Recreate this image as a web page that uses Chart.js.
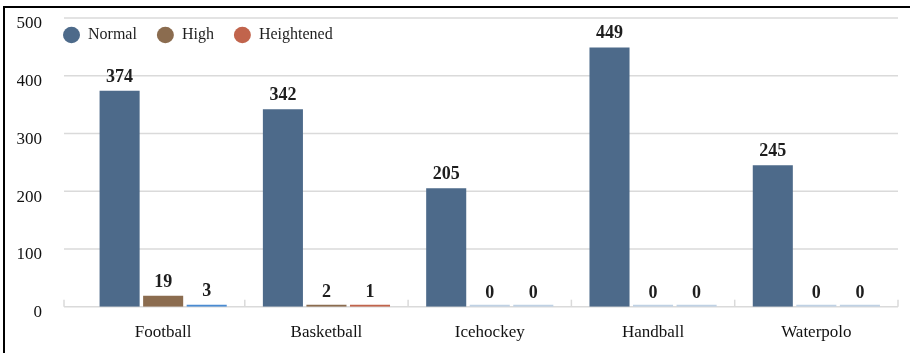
<!DOCTYPE html>
<html>
<head>
<meta charset="utf-8">
<script src="https://cdn.jsdelivr.net/npm/chart.js@4.4.1/dist/chart.umd.min.js"></script>
<style>
  body { margin: 0; background: #fff; }
  #wrap { position: relative; width: 910px; height: 353px; overflow: hidden; }
  #frame { position: absolute; left: 3px; top: 6px; right: -10px; bottom: -10px;
           border-left: 2px solid #000; border-top: 2px solid #000; pointer-events: none; }
  canvas { position: absolute; left: 0; top: 0; }
</style>
</head>
<body>
<div id="wrap">
  <canvas id="myChart" width="910" height="353"></canvas>
  <div id="frame"></div>
</div>
<script>
// Sports and counts per level
const sports = ["Football", "Basketball", "Icehockey", "Handball", "Waterpolo"];
const normal = [374, 342, 205, 449, 245];
const high = [19, 2, 0, 0, 0];
const heightened = [3, 1, 0, 0, 0];
const yTicks = [0, 100, 200, 300, 400, 500];

const serif = "'Liberation Serif', 'Times New Roman', serif";
const zeroColor = '#bfd1e4';
const gridColor = '#dadada';

// horizontal grid lines start a bit left of the first category
const gridPlugin = {
    id: 'grid',
    beforeDatasetsDraw(chart) {
        const ctx = chart.ctx;
        const y = chart.scales.y;
        const x = chart.scales.x;
        ctx.save();
        ctx.strokeStyle = gridColor;
        ctx.lineWidth = 1.5;
        yTicks.forEach(v => {
            const py = y.getPixelForValue(v);
            ctx.beginPath();
            ctx.moveTo(64, py);
            ctx.lineTo(x.right, py);
            ctx.stroke();
        });
        // small tick marks on the category axis
        const base = y.getPixelForValue(0);
        const step = (x.right - x.left) / sports.length;
        const marks = [64];
        for (let i = 1; i <= sports.length; i++) marks.push(x.left + step * i);
        marks.forEach(mx => {
            ctx.beginPath();
            ctx.moveTo(mx, base);
            ctx.lineTo(mx, base - 7);
            ctx.stroke();
        });
        ctx.restore();
    }
};

// value labels above the bars
const labelPlugin = {
    id: 'valueLabels',
    afterDatasetsDraw(chart) {
        const ctx = chart.ctx;
        const y = chart.scales.y;
        ctx.save();
        ctx.font = 'bold 18px ' + serif;
        ctx.fillStyle = '#1e1e1e';
        ctx.textAlign = 'center';
        ctx.textBaseline = 'alphabetic';
        chart.data.datasets.forEach((ds, i) => {
            chart.getDatasetMeta(i).data.forEach((bar, j) => {
                const v = ds.data[j];
                ctx.fillText(String(v), bar.x, y.getPixelForValue(v) - 9);
            });
        });
        ctx.restore();
    }
};

// legend sits inside the plot area, top left
const legendPlace = {
    id: 'legendPlace',
    beforeInit(chart) {
        const fit = chart.legend.fit;
        chart.legend.fit = function () {
            fit.bind(chart.legend)();
            this.height = 0;
        };
    },
    afterLayout(chart) {
        const lg = chart.legend;
        const pad = lg.options.labels.padding;
        lg.left = 63 - pad;
        lg.top = 35 - 8 - pad;
        lg.right = chart.width;
        lg.bottom = lg.top + 60;
        lg.width = lg.right - lg.left;
        lg.height = 60;
    }
};

const ctx = document.getElementById('myChart');
new Chart(ctx, {
    type: 'bar',
    data: {
        labels: sports,
        datasets: [{
            label: 'Normal',
            data: normal,
            backgroundColor: '#4d6a8a'
        }, {
            label: 'High',
            data: high,
            backgroundColor: c => c.raw === 0 ? zeroColor : '#8b6c4f'
        }, {
            label: 'Heightened',
            data: heightened,
            backgroundColor: c => c.raw === 0 ? zeroColor : (c.dataIndex === 0 ? '#4a8bd2' : '#c1644c')
        }]
    },
    options: {
        responsive: false,
        animation: false,
        categoryPercentage: 0.8,
        barPercentage: 0.92,
        minBarLength: 2,
        layout: { padding: { left: 17, right: 12, top: 18, bottom: 0 } },
        plugins: {
            tooltip: { enabled: false },
            legend: {
                position: 'top',
                align: 'start',
                labels: {
                    usePointStyle: true,
                    pointStyle: 'circle',
                    pointStyleWidth: 17,
                    boxHeight: 11.5,
                    padding: 20,
                    color: '#1e1e1e',
                    font: { family: serif, size: 16 },
                    generateLabels(chart) {
                        const cols = ['#4d6a8a', '#8b6c4f', '#c1644c'];
                        return chart.data.datasets.map((ds, i) => ({
                            text: ds.label,
                            fillStyle: cols[i],
                            strokeStyle: cols[i],
                            lineWidth: 0,
                            pointStyle: 'circle',
                            datasetIndex: i,
                            fontColor: '#1e1e1e'
                        }));
                    }
                }
            }
        },
        scales: {
            x: {
                grid: { display: false, drawTicks: false },
                border: { display: false },
                ticks: { color: '#111', padding: 16, font: { family: serif, size: 17 } },
                afterFit(s) { s.height = 46.3; }
            },
            y: {
                min: 0,
                max: 500,
                grid: { display: false, drawTicks: false },
                border: { display: false },
                ticks: {
                    stepSize: 100,
                    color: '#111',
                    padding: 39.5,
                    labelOffset: 6,
                    font: { family: serif, size: 17 }
                },
                afterFit(s) {
                    s.width = 64.5;
                    s.paddingTop = 0;
                    s.paddingBottom = 0;
                }
            }
        }
    },
    plugins: [gridPlugin, labelPlugin, legendPlace]
});
</script>
</body>
</html>
